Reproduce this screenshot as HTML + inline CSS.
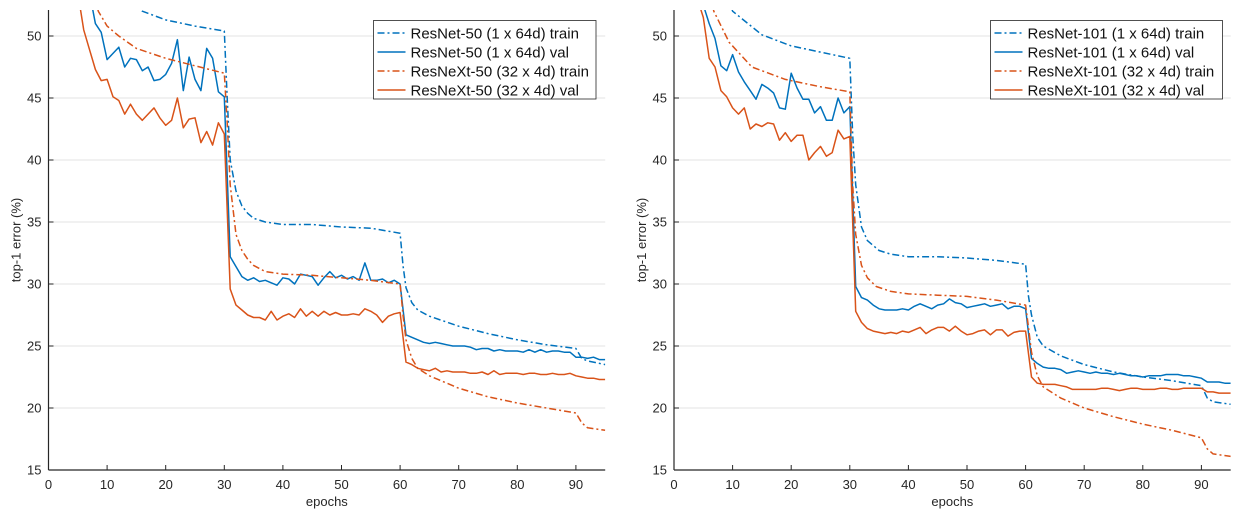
<!DOCTYPE html>
<html><head><meta charset="utf-8"><style>
html,body{margin:0;padding:0;background:#fff;}
svg{display:block;font-family:"Liberation Sans",Arial,sans-serif;}
</style></head><body>
<svg id="chart" width="1259" height="520" viewBox="0 0 1259 520"></svg>
<script>
// ---- data ----
const yTicks = [15,20,25,30,35,40,45,50];
const xTicks = [0,10,20,30,40,50,60,70,80,90];

const p1ResNetTrainEp = [5,10,13,16,20,25,30,30.5,31,32,33,34,35,37,40,45,50,55,60,60.5,61,62,63,65,70,75,80,85,90,91,92,95];
const p1ResNetTrainVal = [60,55,53,52,51.3,50.8,50.4,45,40,37.5,36.3,35.7,35.3,35.0,34.8,34.8,34.6,34.5,34.1,31.5,29.7,28.5,27.9,27.4,26.6,26.0,25.5,25.1,24.8,24.0,23.8,23.5];
const p1ResNeXtTrainEp = [5,8.5,10,12,15,20,25,30,30.5,31,32,33,34,35,37,40,45,50,55,60,60.5,61,62,63,65,70,75,80,85,90,91,92,95];
const p1ResNeXtTrainVal = [58,52,50.8,50,49,48.2,47.6,47.0,43,38,34,32.7,32,31.5,31.0,30.8,30.7,30.5,30.3,30.0,27.5,25.5,24,23.2,22.6,21.6,20.9,20.4,20.0,19.6,18.8,18.4,18.2];
const p1ResNetValStart = 7;
const p1ResNetVal = [53.5,51.0,50.3,48.1,48.6,49.1,47.5,48.2,48.1,47.2,47.5,46.4,46.5,46.9,47.8,49.7,45.6,48.3,46.5,45.6,49.0,48.2,45.5,45.1,
32.2,31.4,30.6,30.3,30.5,30.2,30.3,30.1,29.9,30.5,30.4,30.0,30.8,30.7,30.6,29.9,30.5,31.0,30.5,30.7,30.4,30.6,30.3,31.7,30.3,30.3,30.4,30.1,30.3,30.0,
25.9,25.7,25.5,25.3,25.2,25.3,25.2,25.1,25.0,25.0,25.0,24.9,24.7,24.8,24.8,24.6,24.7,24.6,24.6,24.6,24.5,24.7,24.5,24.7,24.5,24.6,24.6,24.5,24.5,24.1,24.1,24.0,24.1,23.9,23.9];
const p1ResNeXtValStart = 5;
const p1ResNeXtVal = [53.5,50.5,48.9,47.3,46.4,46.5,45.1,44.8,43.7,44.5,43.7,43.2,43.7,44.2,43.4,42.8,43.2,45.0,42.6,43.3,43.4,41.4,42.3,41.2,43.0,42.1,
29.6,28.3,27.9,27.5,27.3,27.3,27.1,27.8,27.1,27.4,27.6,27.3,28.0,27.4,27.8,27.4,27.8,27.5,27.7,27.5,27.5,27.6,27.5,28.0,27.8,27.5,26.9,27.4,27.6,27.7,
23.7,23.5,23.2,23.1,23.0,23.2,22.9,23.0,22.9,22.9,22.9,22.8,22.8,22.9,22.7,23.0,22.7,22.8,22.8,22.8,22.7,22.8,22.8,22.7,22.7,22.8,22.7,22.7,22.8,22.6,22.5,22.4,22.4,22.3,22.3];

const p2ResNetTrainEp = [6,10,15,20,25,30,30.5,31,32,33,35,37,40,45,50,55,60,60.5,61,62,63,66,70,75,80,85,90,91,92,95];
const p2ResNetTrainVal = [58,52,50.1,49.2,48.7,48.2,42,38,34.6,33.5,32.7,32.4,32.2,32.2,32.1,31.9,31.6,29.0,27.5,25.7,25.0,24.2,23.5,22.9,22.5,22.2,21.8,20.8,20.5,20.3];
const p2ResNeXtTrainEp = [5,6.8,9.4,13.3,19,25,30,30.5,31,32,33,34.5,37,40,45,50,55,60,60.5,61,62,63,66,70,75,80,85,90,91,92,95];
const p2ResNeXtTrainVal = [56,52,49.5,47.5,46.5,45.9,45.5,38,34,31.5,30.5,29.8,29.4,29.2,29.1,29.0,28.7,28.3,26.5,24.5,22.6,21.7,20.8,20.0,19.3,18.7,18.2,17.6,16.7,16.3,16.1];
const p2ResNetValStart = 5;
const p2ResNetVal = [52.5,51.0,49.8,47.6,47.2,48.5,47.1,46.3,45.6,44.9,46.1,45.8,45.4,44.2,44.1,47.0,45.8,44.9,44.9,43.8,44.3,43.2,43.2,45.0,43.8,44.3,
29.8,28.9,28.7,28.3,28.0,27.9,27.9,27.9,28.0,27.9,28.2,28.4,28.2,28.0,28.3,28.4,28.8,28.5,28.4,28.1,28.2,28.3,28.4,28.2,28.3,28.4,28.0,28.2,28.2,28.0,
24.0,23.6,23.3,23.2,23.2,23.1,22.8,22.9,23.0,22.9,22.8,22.9,22.8,22.8,22.7,22.8,22.7,22.6,22.6,22.5,22.6,22.6,22.6,22.7,22.7,22.7,22.6,22.6,22.5,22.4,22.1,22.1,22.1,22.0,22.0];
const p2ResNeXtValStart = 4;
const p2ResNeXtVal = [53,51.5,48.2,47.5,45.6,45.1,44.2,43.7,44.2,42.5,42.9,42.7,43.0,42.9,41.6,42.2,41.5,42.0,42.0,40.0,40.6,41.1,40.3,40.6,42.4,41.7,41.9,
27.8,26.9,26.4,26.2,26.1,26.0,26.1,26.0,26.2,26.1,26.3,26.5,26.0,26.3,26.5,26.5,26.2,26.6,26.2,25.9,26.0,26.2,26.3,25.9,26.3,26.3,25.8,26.1,26.2,26.2,
22.5,22.0,21.9,21.9,21.9,21.8,21.7,21.5,21.5,21.5,21.5,21.5,21.6,21.6,21.5,21.4,21.5,21.6,21.6,21.5,21.5,21.5,21.6,21.6,21.5,21.5,21.6,21.6,21.6,21.6,21.3,21.3,21.2,21.2,21.2];

const p1Labels = ["ResNet-50 (1 x 64d) train","ResNet-50 (1 x 64d) val","ResNeXt-50 (32 x 4d) train","ResNeXt-50 (32 x 4d) val"];
const p2Labels = ["ResNet-101 (1 x 64d) train","ResNet-101 (1 x 64d) val","ResNeXt-101 (32 x 4d) train","ResNeXt-101 (32 x 4d) val"];

// ---- drawing ----
const NS = "http://www.w3.org/2000/svg";
const svg = document.getElementById("chart");
const BLUE = "#0072BD", ORANGE = "#D95319", DASH = "7,3,2,3";
function mk(tag, attrs, parent){ const e=document.createElementNS(NS,tag); for(const k in attrs) e.setAttribute(k,attrs[k]); (parent||svg).appendChild(e); return e; }

function panel(id, x0, legX, legW, labels, series){
  const g = mk("g",{});
  
  
  const xs = e => x0 + e*5.86;
  const ys = v => 470 - (v-15)*12.4;
  const xEnd = xs(95);
  yTicks.forEach(t=>{ if(t>15){ const l=mk("line",{x1:x0,x2:xEnd,y1:ys(t),y2:ys(t),stroke:"#e3e3e3","stroke-width":1},g);
    
     } });
  const cp = mk("clipPath",{id:id+"-clip"},g);
  mk("rect",{x:x0,y:10,width:xEnd-x0,height:460},cp);
  const lg = mk("g",{"clip-path":"url(#"+id+"-clip)"},g);
  series.forEach(s=>{
    const pts = s.ep.map((e,i)=>xs(e).toFixed(1)+","+ys(s.v[i]).toFixed(1)).join(" ");
    const pl = mk("polyline",{points:pts,fill:"none",stroke:s.c,"stroke-width":1.5,"stroke-linejoin":"round"},lg);
    if(s.d) pl.setAttribute("stroke-dasharray",DASH);
    
    
  });
  const ya = mk("line",{x1:x0,x2:x0,y1:10,y2:470,stroke:"#262626","stroke-width":1.2},g);
  
  
  const xa = mk("line",{x1:x0,x2:xEnd,y1:470,y2:470,stroke:"#262626","stroke-width":1.2},g);
  
  
  yTicks.forEach(t=>{
    mk("line",{x1:x0,x2:x0+5,y1:ys(t),y2:ys(t),stroke:"#262626"},g);
    const tx = mk("text",{x:x0-7,y:ys(t)+4.5,"text-anchor":"end","font-size":13,fill:"#262626"},g);
    tx.textContent = t;
    
    
  });
  xTicks.forEach(t=>{
    mk("line",{x1:xs(t),x2:xs(t),y1:470,y2:465,stroke:"#262626"},g);
    const tx = mk("text",{x:xs(t),y:489,"text-anchor":"middle","font-size":13,fill:"#262626"},g);
    tx.textContent = t;
    
    
  });
  const xt = mk("text",{x:(x0+xEnd)/2,y:506,"text-anchor":"middle","font-size":13,fill:"#262626"},g);
  xt.textContent = "epochs";
  
  
  const ytl = mk("text",{x:0,y:0,"text-anchor":"middle","font-size":13,fill:"#262626",transform:"translate("+(x0-28)+",240) rotate(-90)"},g);
  ytl.textContent = "top-1 error (%)";
  
  
  const leg = mk("g",{},g);
  
  
  mk("rect",{x:legX,y:20.5,width:legW,height:78.5,fill:"#fff",stroke:"#262626","stroke-width":0.8},leg);
  series.forEach((s,i)=>{
    const yy = 33 + i*19;
    const ent = mk("g",{},leg);
    
    
    const l = mk("line",{x1:legX+4,x2:legX+32,y1:yy,y2:yy,stroke:s.c,"stroke-width":1.5},ent);
    if(s.d) l.setAttribute("stroke-dasharray",DASH);
    const t = mk("text",{x:legX+37,y:yy+5.5,"font-size":15,fill:"#111"},ent);
    t.textContent = labels[i];
  });
}
function valEp(start, arr){ return arr.map((_,i)=>start+i); }

panel("left-panel", 48.5, 373.5, 222.5, p1Labels, [
  {name:"resnet50-train-line", ep:p1ResNetTrainEp, v:p1ResNetTrainVal, c:BLUE, d:true},
  {name:"resnet50-val-line", ep:valEp(p1ResNetValStart,p1ResNetVal), v:p1ResNetVal, c:BLUE, d:false},
  {name:"resnext50-train-line", ep:p1ResNeXtTrainEp, v:p1ResNeXtTrainVal, c:ORANGE, d:true},
  {name:"resnext50-val-line", ep:valEp(p1ResNeXtValStart,p1ResNeXtVal), v:p1ResNeXtVal, c:ORANGE, d:false}
]);
panel("right-panel", 674, 990.5, 232, p2Labels, [
  {name:"resnet101-train-line", ep:p2ResNetTrainEp, v:p2ResNetTrainVal, c:BLUE, d:true},
  {name:"resnet101-val-line", ep:valEp(p2ResNetValStart,p2ResNetVal), v:p2ResNetVal, c:BLUE, d:false},
  {name:"resnext101-train-line", ep:p2ResNeXtTrainEp, v:p2ResNeXtTrainVal, c:ORANGE, d:true},
  {name:"resnext101-val-line", ep:valEp(p2ResNeXtValStart,p2ResNeXtVal), v:p2ResNeXtVal, c:ORANGE, d:false}
]);
</script>
</body></html>
